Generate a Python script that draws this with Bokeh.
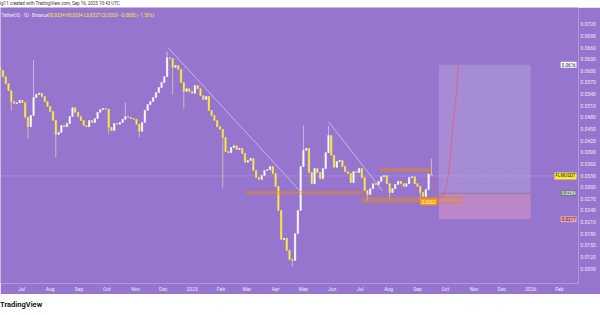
import pandas as pd
from bokeh.plotting import figure
from bokeh.models import (Range1d, FixedTicker, NumeralTickFormatter, Label, Div,
                          Span, ColumnDataSource)
from bokeh.layouts import column
from bokeh.embed import file_html
from bokeh.resources import INLINE

# ---------------- data ----------------
credit_text = "ig11 created with TradingView.com, Sep 16, 2025 10:43 UTC"
symbol_text = "TetherUS · 1D · Binance"
ohlc_text = "O0.0334 H0.0334 L0.0327 C0.0329 −0.0005 (−1.50%)"
ticker = "FLMUSDT"
logo_text = "TradingView"

candle_start = "2024-06-08"
candle_days = 3
first_open = 0.0610
closes = [
    0.0601, 0.0585, 0.0567, 0.0549, 0.0521, 0.0516, 0.0518, 0.0524, 0.0518, 0.0480,
    0.0456, 0.0485, 0.0531, 0.0539, 0.0542, 0.0534, 0.0521, 0.0508, 0.0495, 0.0472,
    0.0436, 0.0441, 0.0459, 0.0456, 0.0464, 0.0482, 0.0505, 0.0493, 0.0482, 0.0472,
    0.0459, 0.0456, 0.0472, 0.0467, 0.0477, 0.0493, 0.0500, 0.0503, 0.0501, 0.0454,
    0.0446, 0.0464, 0.0462, 0.0467, 0.0475, 0.0482, 0.0480, 0.0477, 0.0475, 0.0462,
    0.0444, 0.0467, 0.0498, 0.0513, 0.0521, 0.0531, 0.0544, 0.0557, 0.0570, 0.0585,
    0.0634, 0.0632, 0.0609, 0.0614, 0.0604, 0.0570, 0.0547, 0.0554, 0.0547, 0.0542,
    0.0562, 0.0554, 0.0536, 0.0526, 0.0534, 0.0498, 0.0485, 0.0472, 0.0456, 0.0449,
    0.0428, 0.0392, 0.0389, 0.0402, 0.0407, 0.0397, 0.0400, 0.0387, 0.0364, 0.0369,
    0.0374, 0.0343, 0.0325, 0.0320, 0.0330, 0.0343, 0.0345, 0.0353, 0.0335, 0.0302,
    0.0240, 0.0165, 0.0168, 0.0137, 0.0113, 0.0111, 0.0180, 0.0240, 0.0353, 0.0395,
    0.0400, 0.0338, 0.0309, 0.0348, 0.0338, 0.0322, 0.0348, 0.0389, 0.0433, 0.0382,
    0.0351, 0.0366, 0.0369, 0.0353, 0.0340, 0.0335, 0.0312, 0.0340, 0.0338, 0.0348,
    0.0325, 0.0291, 0.0281, 0.0296, 0.0309, 0.0307, 0.0315, 0.0327, 0.0330, 0.0309,
    0.0286, 0.0296, 0.0307, 0.0315, 0.0309, 0.0302, 0.0309, 0.0325, 0.0327, 0.0309,
    0.0302, 0.0286, 0.0276, 0.0294, 0.0334, 0.0329,
]
high_spikes = {12: 0.0627, 45: 0.0518, 60: 0.0650, 109: 0.0459, 118: 0.0459, 155: 0.0374}
low_spikes = {4: 0.0498, 10: 0.0425, 20: 0.0376, 39: 0.0438, 50: 0.0428, 62: 0.0540,
              66: 0.0503, 80: 0.0299, 105: 0.0095, 132: 0.0265, 140: 0.0270, 151: 0.0268}

month_ticks = ["2024-07-01", "2024-08-01", "2024-09-01", "2024-10-01", "2024-11-01",
               "2024-12-01", "2025-01-01", "2025-02-01", "2025-03-01", "2025-04-01",
               "2025-05-01", "2025-06-01", "2025-07-01", "2025-08-01", "2025-09-01",
               "2025-10-01", "2025-11-01", "2025-12-01", "2026-01-01", "2026-02-01",
               "2026-03-01"]
month_labels = ["Jul", "Aug", "Sep", "Oct", "Nov", "Dec", "2025", "Feb", "Mar", "Apr",
                "May", "Jun", "Jul", "Aug", "Sep", "Oct", "Nov", "Dec", "2026", "Feb",
                "Mar"]
price_ticks = [0.009, 0.012, 0.015, 0.018, 0.021, 0.024, 0.027, 0.030, 0.033, 0.036,
               0.039, 0.042, 0.045, 0.048, 0.051, 0.054, 0.057, 0.060, 0.063, 0.066,
               0.069, 0.072]

last_price = 0.0329
trend1_dates = ["2024-12-06", "2025-04-27"]
trend1_prices = [0.0660, 0.0291]
trend2_dates = ["2025-05-28", "2025-07-25"]
trend2_prices = [0.0469, 0.0291]
zone_left = ["2025-02-28", "2025-07-23", "2025-07-03"]
zone_right = ["2025-07-04", "2025-09-15", "2025-10-19"]
zone_bottom = [0.0282, 0.0341, 0.0260]
zone_top = [0.0289, 0.0348, 0.0273]
zone_label_date = "2025-09-13"
zone_label_price = 0.0262
long_start, long_end = "2025-09-24", "2026-01-01"
long_target, long_entry, long_stop = 0.0616, 0.0284, 0.0217
curve_dates = ["2025-09-15", "2025-09-17", "2025-09-20", "2025-09-23", "2025-09-25",
               "2025-09-29", "2025-10-03", "2025-10-06", "2025-10-09", "2025-10-13",
               "2025-10-15"]
curve_prices = [0.0335, 0.0322, 0.0299, 0.0281, 0.0273, 0.0276, 0.0309, 0.0369,
                0.0454, 0.0542, 0.0614]

# ---------------- styling / layout ----------------
BG = "#9575CD"
UP = "#FFFFFF"
DOWN = "#FFEB3B"
FONT = "Roboto"
FIG_W, FIG_H = 600, 287
AX_R, AX_B = 22, 11
frame_w = FIG_W - AX_R
px_per_day = 0.9274
header_price = 0.0743


def ms(d):
    return pd.Timestamp(d).value / 1e6


x0 = pd.Timestamp("2024-07-01") - pd.Timedelta(days=21 / px_per_day)
x1 = x0 + pd.Timedelta(days=frame_w / px_per_day)

dates = pd.date_range(candle_start, periods=len(closes), freq=f"{candle_days}D")
opens = [first_open] + closes[:-1]
highs, lows, colors, wick_colors = [], [], [], []
for i, (o, c) in enumerate(zip(opens, closes)):
    highs.append(max(o, c, high_spikes.get(i, 0)))
    lows.append(min(o, c, low_spikes.get(i, 1)))
    up = c >= o
    colors.append(UP if up else DOWN)
    wick_colors.append("#E3DAF6" if up else "#EFE29A")

src = ColumnDataSource(dict(
    x=dates, top=[max(o, c) for o, c in zip(opens, closes)],
    bottom=[min(o, c) for o, c in zip(opens, closes)],
    high=highs, low=lows, color=colors, wick=wick_colors))

p = figure(width=FIG_W, height=FIG_H, x_axis_type="datetime", y_axis_location="right",
           output_backend="svg", toolbar_location=None,
           x_range=Range1d(x0, x1), y_range=Range1d(0.00514, 0.07634),
           min_border_left=0, min_border_top=0, min_border_right=AX_R,
           min_border_bottom=AX_B)
p.background_fill_color = BG
p.border_fill_color = BG
p.outline_line_color = None
p.grid.visible = False

# long position box
p.quad(left=[ms(long_start)], right=[ms(long_end)], bottom=[long_entry], top=[long_target],
       fill_color="#FFFFFF", fill_alpha=0.16, line_color=None)
p.quad(left=[ms(long_start)], right=[ms(long_end)], bottom=[long_stop], top=[long_entry],
       fill_color="#FFA8C0", fill_alpha=0.36, line_color=None)
p.segment(x0=[ms(long_start)], x1=[ms(long_end)], y0=[long_entry], y1=[long_entry],
          line_color="#8A8496", line_width=1)

# current price line
p.add_layout(Span(location=last_price, dimension="width", line_color="#CFC3EC",
                  line_alpha=0.8, line_width=1, line_dash="1 2"))

# candles
bar_w = 24 * 3600 * 1000 * 1.5
p.segment(x0="x", x1="x", y0="low", y1="high", line_color="wick", line_width=0.8,
          line_alpha=0.8, source=src)
p.vbar(x="x", width=bar_w, top="top", bottom="bottom", fill_color="color",
       line_color="color", line_width=0.5, source=src)

# zones
p.quad(left=[ms(d) for d in zone_left], right=[ms(d) for d in zone_right],
       bottom=zone_bottom, top=zone_top, fill_color="#FF9800", fill_alpha=0.3,
       line_color="#F57C00", line_alpha=0.55, line_width=0.8)

# trend lines
p.line(x=pd.to_datetime(trend1_dates), y=trend1_prices, line_color="#DCD2F2",
       line_width=0.8, line_alpha=0.85)
p.line(x=pd.to_datetime(trend2_dates), y=trend2_prices, line_color="#DCD2F2",
       line_width=0.8, line_alpha=0.85)

# projected path
p.line(x=pd.to_datetime(curve_dates), y=curve_prices, line_color="#E0607E",
       line_width=1, line_alpha=0.85)

# zone price label
p.add_layout(Label(x=ms(zone_label_date), y=zone_label_price, text=f"{zone_label_price:.4f}",
                   text_align="center", text_baseline="middle", text_font=FONT,
                   text_font_size="4.5px", text_color="#FFFFFF",
                   background_fill_color="#FF9800", border_line_color="#FF9800",
                   padding=1))

# header
p.add_layout(Label(x=1, y=header_price, x_units="screen", text=symbol_text,
                   text_font=FONT, text_font_size="4.5px", text_color="#F2EEFA",
                   text_baseline="middle"))
p.add_layout(Label(x=47, y=header_price, x_units="screen", text=ohlc_text,
                   text_font=FONT, text_font_size="4.5px", text_color="#FFEB3B",
                   text_baseline="middle"))

# axes
p.xaxis.ticker = FixedTicker(ticks=[ms(d) for d in month_ticks])
p.xaxis.major_label_overrides = {int(ms(d)): t for d, t in zip(month_ticks, month_labels)}
p.yaxis.ticker = FixedTicker(ticks=price_ticks)
p.yaxis.formatter = NumeralTickFormatter(format="0.0000")
for ax in (p.xaxis, p.yaxis):
    ax.axis_line_color = None
    ax.major_tick_line_color = None
    ax.minor_tick_line_color = None
    ax.major_tick_out = 0
    ax.major_tick_in = 0
    ax.minor_tick_out = 0
    ax.minor_tick_in = 0
    ax.major_label_text_font = FONT
    ax.major_label_text_font_size = "5px"
    ax.major_label_text_color = "#EEE9F8"
    ax.major_label_standoff = 2

# price tags at the right edge of the chart
for price, text, bg, fg in [(last_price, ticker, "#FFEB3B", "#131722"),
                            (long_target, f"{long_target:.4f}", "#FFFFFF", "#131722"),
                            (long_entry, f"{long_entry:.4f}", "#787B86", "#FFFFFF"),
                            (long_stop, f"{long_stop:.4f}", "#F7A1B4", "#131722")]:
    p.add_layout(Label(x=frame_w - 2, y=price, x_units="screen", text=text,
                       text_align="right", text_baseline="middle", text_font=FONT,
                       text_font_size="4.5px", text_color=fg,
                       background_fill_color=bg, padding=1))

top_div = Div(text=credit_text, width=600, height=7, margin=0,
              styles={"font-family": FONT, "font-size": "4.5px", "color": "#3A3A3A",
                      "line-height": "7px", "white-space": "nowrap",
                      "overflow": "hidden", "background": "#FFFFFF"})
bottom_div = Div(text=logo_text, width=600, height=21, margin=0,
                 styles={"font-family": FONT, "font-size": "7.5px", "font-weight": "bold",
                         "color": "#131722", "line-height": "21px",
                         "white-space": "nowrap", "overflow": "hidden",
                         "background": "#FFFFFF"})

layout = column(top_div, p, bottom_div, spacing=0, margin=0)
open("out.html", "w").write(file_html(layout, INLINE))
